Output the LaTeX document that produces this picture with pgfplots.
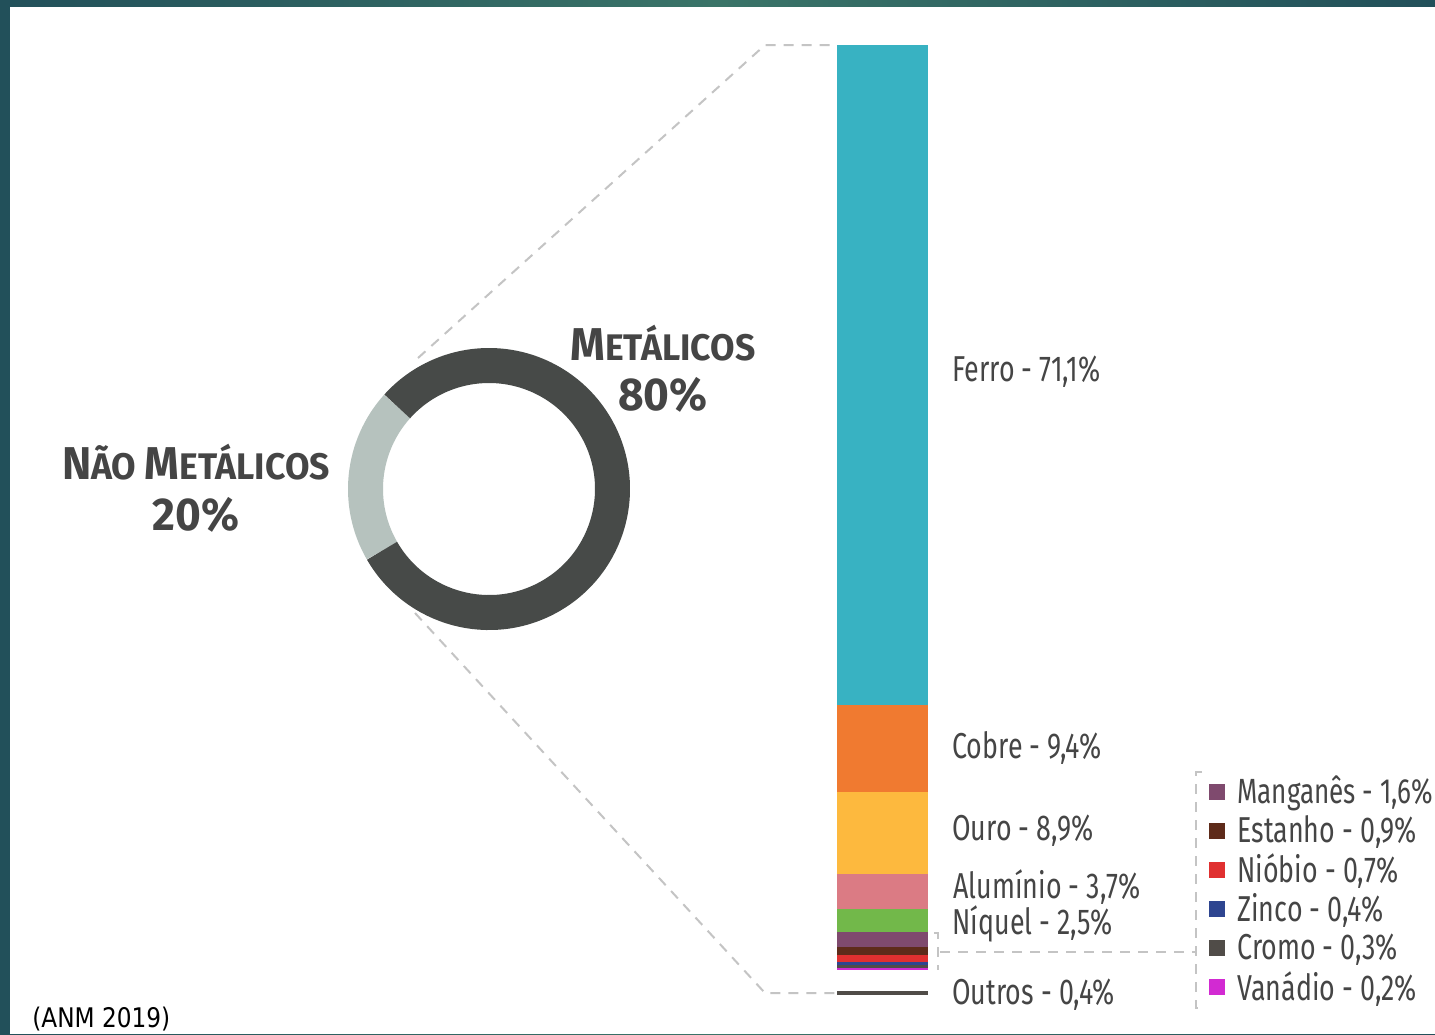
\documentclass[border=0pt]{standalone}
\usepackage{pgfplots}
\pgfplotsset{compat=1.18}
\usepackage{fontspec}
\setmainfont{Fira Sans}[FakeStretch=0.745]
\newfontfamily\boldlab{Fira Sans}[FakeStretch=0.96]
\newfontfamily\anmfont{DejaVu Sans}[FakeStretch=0.86]
\definecolor{bgdark}{HTML}{22505A}
\definecolor{bglight}{HTML}{3A7468}
\definecolor{ferro}{HTML}{38B2C2}
\definecolor{cobre}{HTML}{F07A30}
\definecolor{ouro}{HTML}{FDB93E}
\definecolor{alum}{HTML}{DB7B84}
\definecolor{niquel}{HTML}{72B84A}
\definecolor{mangan}{HTML}{7F4A6E}
\definecolor{estanho}{HTML}{5E2B1A}
\definecolor{niobio}{HTML}{E03030}
\definecolor{zinco}{HTML}{2E4590}
\definecolor{cromo}{HTML}{504C48}
\definecolor{vanad}{HTML}{D22AD2}
\definecolor{donutdark}{HTML}{474A48}
\definecolor{donutlight}{HTML}{B6C2BE}
\definecolor{txt}{HTML}{454545}
\definecolor{leadc}{HTML}{C4C4C4}
\tikzset{
  leader/.style={leadc, line width=1pt, dash pattern=on 5pt off 4pt},
  lbl/.style={anchor=west, text=txt, font=\fontsize{18}{18}\selectfont, inner sep=0pt},
  blbl/.style={anchor=center, text=txt, inner sep=0pt}}
\begin{document}
\begin{tikzpicture}
\path[use as bounding box, clip] (0,0) rectangle (717.5pt,517pt);
\begin{axis}[name=main, at={(0,0)}, anchor=south west,
  width=717.5pt, height=517pt, scale only axis,
  xmin=0, xmax=1435, ymin=0, ymax=1034, y dir=reverse,
  hide axis, clip=false]
% background frame
\shade[left color=bgdark, right color=bgdark, middle color=bglight] (axis cs:0,0) rectangle (axis cs:1435,1034);
\fill[white] (axis cs:10,7) rectangle (axis cs:1435,1034);
% donut: 80 / 20
\draw[donutlight, line width=17.5pt] (axis cs:489,489) ++(138:61.75pt) arc[start angle=138, end angle=210, radius=61.75pt];
\draw[donutdark, line width=17.5pt] (axis cs:489,489) ++(210:61.75pt) arc[start angle=210, end angle=498, radius=61.75pt];
% leader lines
\addplot[leader] coordinates {(418,358) (765,45) (835,45)};
\addplot[leader] coordinates {(415,613) (765,993) (835,993)};
\addplot[leader] coordinates {(934,933) (938,933) (938,970)};
\addplot[leader] coordinates {(940,952) (1196,952)};
\addplot[leader] coordinates {(1202,772) (1196,772) (1196,1008) (1202,1008)};
% outros
\addplot[cromo, line width=2pt] coordinates {(837,993) (928,993)};
% labels
\node[lbl] at (axis cs:952,372) {Ferro - 71,1\%};
\node[lbl] at (axis cs:952,748) {Cobre - 9,4\%};
\node[lbl] at (axis cs:952,831) {Ouro - 8,9\%};
\node[lbl] at (axis cs:953,887) {Alumínio - 3,7\%};
\node[lbl] at (axis cs:952,924) {Níquel - 2,5\%};
\node[lbl] at (axis cs:952,995) {Outros - 0,4\%};
% legend of small items
\addplot[only marks, mark=square*, mark size=3.75pt, color=mangan] coordinates {(1217,792)};
\addplot[only marks, mark=square*, mark size=3.75pt, color=estanho] coordinates {(1217,831)};
\addplot[only marks, mark=square*, mark size=3.75pt, color=niobio] coordinates {(1217,870)};
\addplot[only marks, mark=square*, mark size=3.75pt, color=zinco] coordinates {(1217,909)};
\addplot[only marks, mark=square*, mark size=3.75pt, color=cromo] coordinates {(1217,948)};
\addplot[only marks, mark=square*, mark size=3.75pt, color=vanad] coordinates {(1217,987)};
\node[lbl, font=\fontsize{17.5}{17.5}\selectfont] at (axis cs:1237,793) {Manganês - 1,6\%};
\node[lbl] at (axis cs:1237,832) {Estanho - 0,9\%};
\node[lbl] at (axis cs:1237,871) {Nióbio - 0,7\%};
\node[lbl] at (axis cs:1237,910) {Zinco - 0,4\%};
\node[lbl] at (axis cs:1237,950) {Cromo - 0,3\%};
\node[lbl] at (axis cs:1237,989) {Vanádio - 0,2\%};
% donut labels
\node[blbl] at (axis cs:663,343) {\boldlab\bfseries{\fontsize{23}{23}\selectfont M}{\fontsize{18.5}{18.5}\selectfont ETÁLICOS}};
\node[blbl] at (axis cs:663,395) {\boldlab\bfseries\fontsize{23}{23}\selectfont 80\%};
\node[blbl] at (axis cs:196,462) {\boldlab\bfseries{\fontsize{23}{23}\selectfont N}{\fontsize{18.5}{18.5}\selectfont ÃO }{\fontsize{23}{23}\selectfont M}{\fontsize{18.5}{18.5}\selectfont ETÁLICOS}};
\node[blbl] at (axis cs:196,515) {\boldlab\bfseries\fontsize{23}{23}\selectfont 20\%};
% source
\node[anchor=base west, inner sep=0pt, text=black] at (axis cs:32,1027) {\anmfont\fontsize{13.5}{13.5}\selectfont (ANM 2019)};
\end{axis}
% stacked bar of the metallic substances
\begin{axis}[at={(418.5pt,32pt)}, anchor=south west,
  width=45.5pt, height=462.5pt, scale only axis,
  xmin=0.5, xmax=1.5, ymin=0, ymax=99.7, hide axis,
  ybar stacked, bar width=1, clip=false]
\addplot[fill=vanad, draw=none] coordinates {(1,0.2)};
\addplot[fill=cromo, draw=none] coordinates {(1,0.3)};
\addplot[fill=zinco, draw=none] coordinates {(1,0.4)};
\addplot[fill=niobio, draw=none] coordinates {(1,0.7)};
\addplot[fill=estanho, draw=none] coordinates {(1,0.9)};
\addplot[fill=mangan, draw=none] coordinates {(1,1.6)};
\addplot[fill=niquel, draw=none] coordinates {(1,2.5)};
\addplot[fill=alum, draw=none] coordinates {(1,3.7)};
\addplot[fill=ouro, draw=none] coordinates {(1,8.9)};
\addplot[fill=cobre, draw=none] coordinates {(1,9.4)};
\addplot[fill=ferro, draw=none] coordinates {(1,71.1)};
\end{axis}
\end{tikzpicture}
\end{document}
